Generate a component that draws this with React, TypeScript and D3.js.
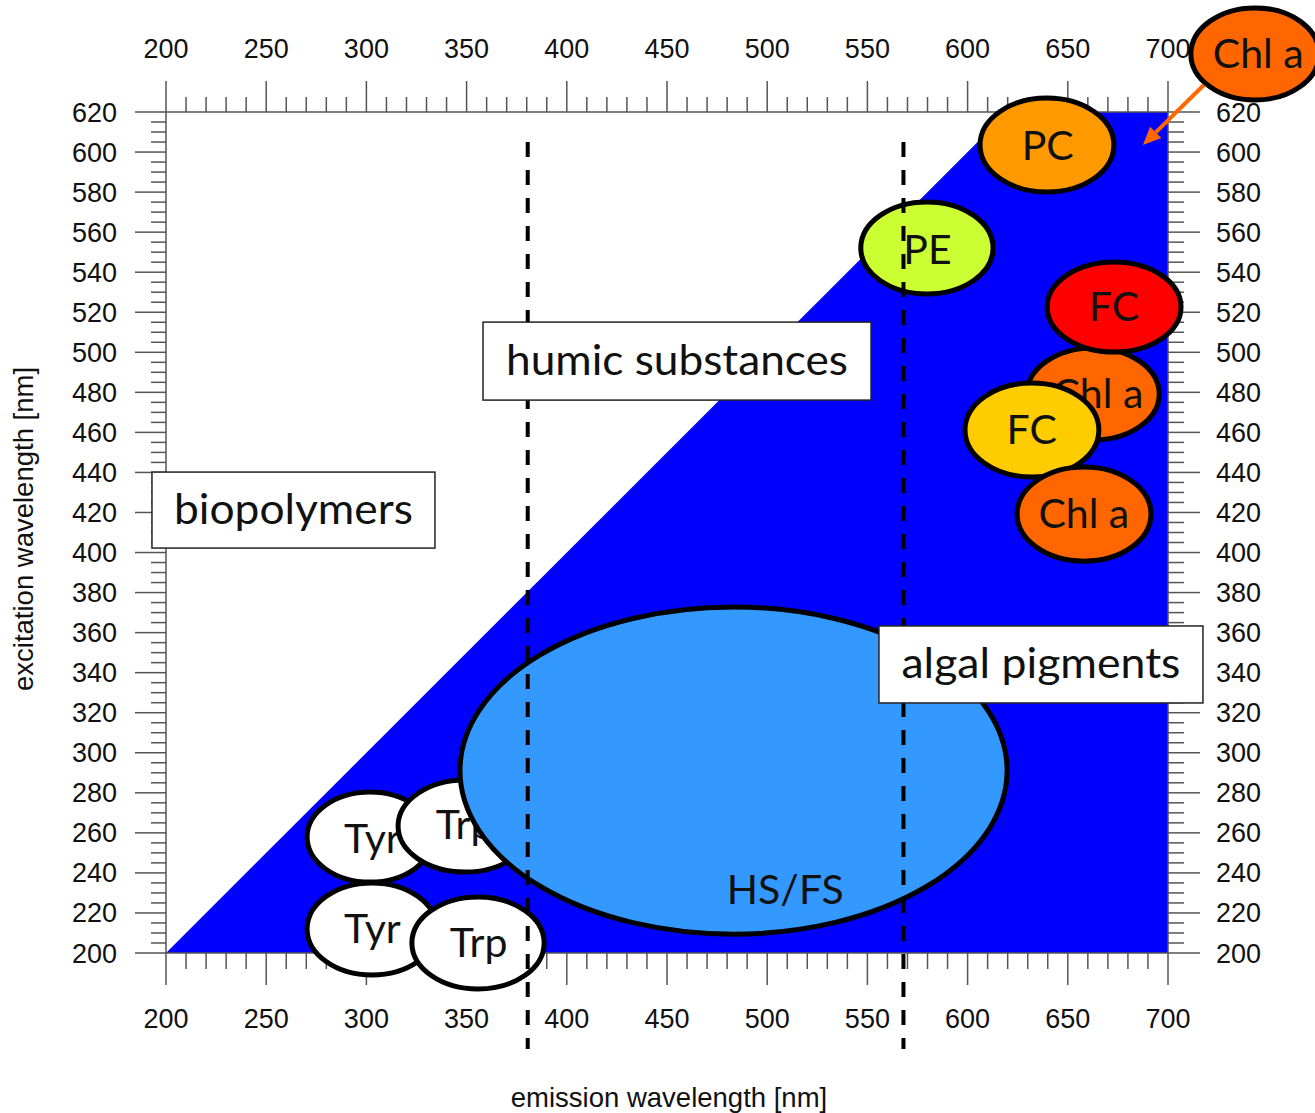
import React from "react";
import * as d3 from "d3";

// Axis domains and ticks (nm)
const emDomain = [200, 700];
const exDomain = [200, 620];
const emMajorTicks = d3.range(200, 701, 50);
const emMinorTicks = d3.range(200, 701, 10);
const exMajorTicks = d3.range(200, 621, 20);
const exMinorTicks = d3.range(200, 621, 5);

// Region where excitation <= emission (the blue area)
const regionEm = [200, 620, 700, 700];
const regionEx = [200, 620, 620, 200];

// Fluorophore ellipses (em centre, ex centre, half-width em, half-height ex)
const fluoNames = ["Tyr", "Tyr", "Trp", "Trp", "HS/FS", "PC", "Chl a", "PE", "Chl a", "FC", "FC", "Chl a"];
const fluoEm = [301.8, 302.8, 349.2, 355.7, 483.2, 639.6, 743.4, 579.7, 662.6, 673.1, 632.1, 658.1];
const fluoEx = [257.9, 212.0, 263.4, 205.0, 291.1, 603.5, 649.0, 552.1, 479.2, 522.6, 461.2, 419.2];
const fluoHalfEm = [31.4, 32.4, 33.4, 33.0, 136.5, 33.4, 32.0, 33.0, 33.0, 33.4, 33.4, 33.4];
const fluoHalfEx = [22.5, 23.0, 23.0, 23.0, 81.7, 23.5, 23.0, 23.0, 23.0, 22.5, 23.5, 23.5];
const fluoLabelEm = [303, 303, 349, 356, 509, 640, 745, 580, 665, 673, 632, 658];
const fluoLabelEx = [257, 212, 264, 205, 231.5, 603, 649, 551, 479, 522.6, 461, 419];
const fluoColors = ["#ffffff", "#ffffff", "#ffffff", "#ffffff", "#3399ff", "#ff9900", "#ff6600", "#ccff33", "#ff6600", "#ff0000", "#ffcc00", "#ff6600"];

// Boundary lines (emission nm) and their ex extent
const boundaryEm = [380.5, 568];
const boundaryExRange = [605, 152];

// Text boxes
const boxLabels = ["biopolymers", "humic substances", "algal pigments"];
const boxEm = [263.6, 455, 636.6];
const boxEx = [421.2, 495.6, 344.1];

// Arrow (Chl a pointing into the plot)
const arrowFrom = [717.9, 633.5];
const arrowTo = [687.5, 603.5];

const W = 1315;
const H = 1113;
const L = 166, R = 1168, T = 112, B = 953;

export default function App() {
  const x = d3.scaleLinear().domain(emDomain).range([L, R]);
  const y = d3.scaleLinear().domain(exDomain).range([B, T]);

  const regionPath = d3.line<number>()
    .x((_, i) => x(regionEm[i]))
    .y((_, i) => y(regionEx[i]))(regionEm.map((d) => d)) + "Z";

  const axisColor = "#555";
  const tickFont = "'Liberation Sans', Arial, sans-serif";
  const labelFont = "Lato, 'Open Sans', sans-serif";

  const boxSizes = [[283, 76], [388, 78], [324, 77]];
  const boxTextLen = [239, 342, 279];

  const ax1 = x(arrowFrom[0]), ay1 = y(arrowFrom[1]);
  const ax2 = x(arrowTo[0]), ay2 = y(arrowTo[1]);
  const ang = Math.atan2(ay2 - ay1, ax2 - ax1);
  const ah = 18, aw = 8;
  const bx = ax2 - ah * Math.cos(ang), by = ay2 - ah * Math.sin(ang);
  const headPts = [
    [ax2, ay2],
    [bx + aw * Math.sin(ang), by - aw * Math.cos(ang)],
    [bx - aw * Math.sin(ang), by + aw * Math.cos(ang)],
  ];

  return (
    <svg width={W} height={H} style={{ position: "absolute", left: 0, top: 0, background: "#fff" }}>
      <rect x={0} y={0} width={W} height={H} fill="#fff" />
      <path d={regionPath} fill="#0000ff" />

      {/* ticks */}
      <g stroke={axisColor} strokeWidth={1.5}>
        <line x1={L} x2={R} y1={T} y2={T} />
        <line x1={L} x2={R} y1={B} y2={B} />
        <line x1={L} x2={L} y1={T} y2={B} />
        <line x1={R} x2={R} y1={T} y2={B} />
        {emMinorTicks.map((v) => {
          const major = v % 50 === 0;
          return (
            <g key={"em" + v}>
              <line x1={x(v)} x2={x(v)} y1={T} y2={T - (major ? 31 : 15)} />
              <line x1={x(v)} x2={x(v)} y1={B} y2={B + (major ? 32 : 16)} />
            </g>
          );
        })}
        {exMinorTicks.map((v) => {
          const major = v % 20 === 0;
          return (
            <g key={"ex" + v}>
              <line x1={L} x2={L - (major ? 31 : 15)} y1={y(v)} y2={y(v)} />
              <line x1={R} x2={R + (major ? 32 : 16)} y1={y(v)} y2={y(v)} />
            </g>
          );
        })}
      </g>

      {/* tick labels */}
      <g fontFamily={tickFont} fontSize={27} fill="#111">
        {emMajorTicks.map((v) => (
          <g key={"eml" + v}>
            <text x={x(v)} y={58} textAnchor="middle">{v}</text>
            <text x={x(v)} y={1028} textAnchor="middle">{v}</text>
          </g>
        ))}
        {exMajorTicks.map((v) => (
          <g key={"exl" + v}>
            <text x={117} y={y(v) + 9.5} textAnchor="end">{v}</text>
            <text x={1216} y={y(v) + 9.5} textAnchor="start">{v}</text>
          </g>
        ))}
        <text x={669} y={1107} textAnchor="middle" fontSize={27.5}>emission wavelength [nm]</text>
        <text transform="translate(33,691) rotate(-90)" textAnchor="start" fontSize={27.5}>excitation wavelength [nm]</text>
      </g>

      {/* ellipses */}
      {fluoNames.map((name, i) => (
        <g key={"f" + i}>
          <ellipse
            cx={x(fluoEm[i])}
            cy={y(fluoEx[i])}
            rx={x(fluoEm[i] + fluoHalfEm[i]) - x(fluoEm[i])}
            ry={y(fluoEx[i]) - y(fluoEx[i] + fluoHalfEx[i])}
            fill={fluoColors[i]}
            stroke="#000"
            strokeWidth={5}
          />
          <text
            x={x(fluoLabelEm[i])}
            y={y(fluoLabelEx[i]) + 14}
            textAnchor="middle"
            fontFamily={labelFont}
            fontSize={41}
            fill="#111"
          >
            {name}
          </text>
        </g>
      ))}

      {/* arrow */}
      <line x1={ax1} y1={ay1} x2={bx} y2={by} stroke="#ff6600" strokeWidth={4} />
      <polygon points={headPts.map((p) => p.join(",")).join(" ")} fill="#ff6600" />

      {/* boundary lines */}
      {boundaryEm.map((v) => (
        <line
          key={"b" + v}
          x1={x(v)}
          x2={x(v)}
          y1={y(boundaryExRange[0])}
          y2={y(boundaryExRange[1])}
          stroke="#000"
          strokeWidth={4}
          strokeDasharray="15,13"
        />
      ))}

      {/* text boxes */}
      {boxLabels.map((lab, i) => {
        const cx = x(boxEm[i]);
        const cy = y(boxEx[i]);
        const [w, h] = boxSizes[i];
        return (
          <g key={"box" + i}>
            <rect x={cx - w / 2} y={cy - h / 2} width={w} height={h} fill="#fff" stroke="#222" strokeWidth={1.5} />
            <text
              x={cx}
              y={cy + 14}
              textAnchor="middle"
              fontFamily={labelFont}
              fontSize={42}
              fill="#111"
              textLength={boxTextLen[i]}
              lengthAdjust="spacingAndGlyphs"
            >
              {lab}
            </text>
          </g>
        );
      })}
    </svg>
  );
}
